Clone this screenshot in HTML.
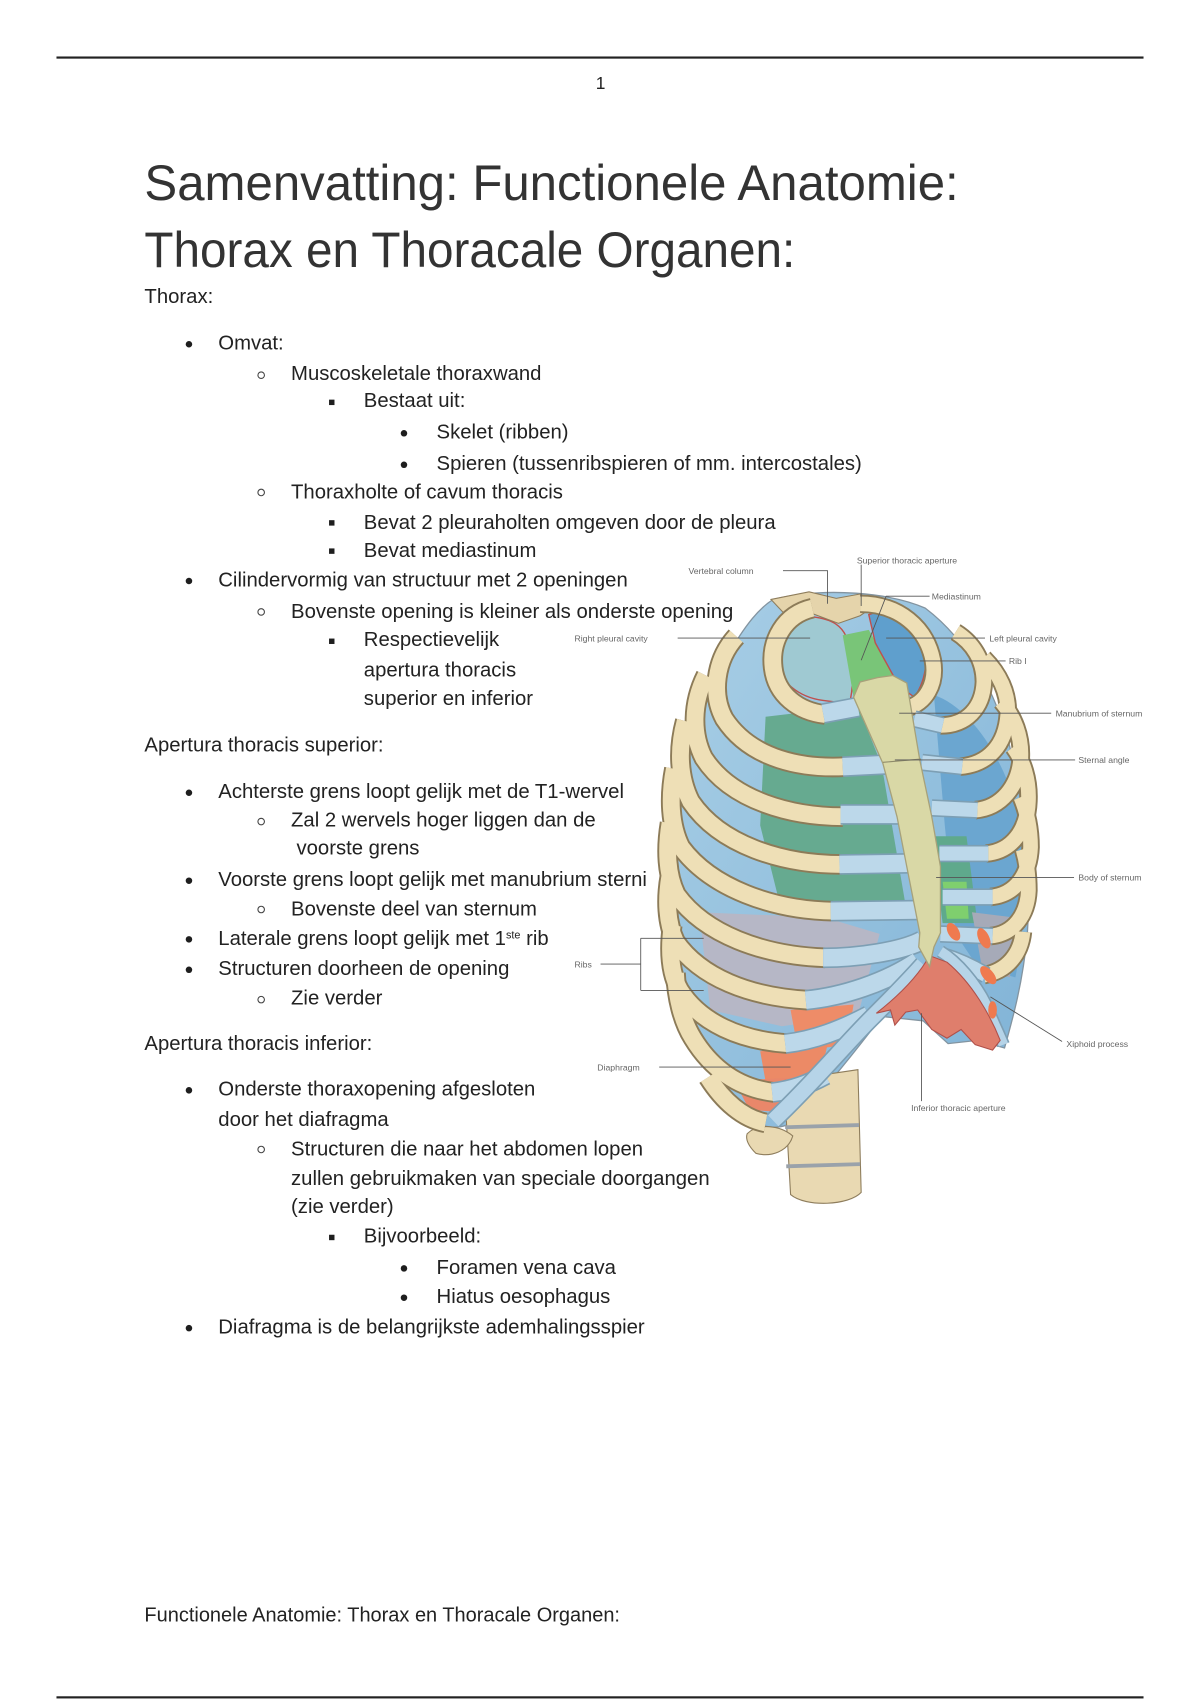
<!DOCTYPE html>
<html><head><meta charset="utf-8"><style>
html,body{margin:0;padding:0;background:#fff;}
body{width:1200px;height:1700px;overflow:hidden;position:relative;}
#pg{position:absolute;left:0;top:0;width:1105px;height:1566px;transform:scale(1.08597);transform-origin:0 0;font-family:"Liberation Sans",Arial,sans-serif;color:#222;}
.t{position:absolute;font-size:18.7px;line-height:19px;white-space:nowrap;}
.d{position:absolute;width:6px;height:6px;border-radius:50%;background:#1e1e1e;}
.o{position:absolute;width:7px;height:7px;border-radius:50%;border:1.2px solid #444;box-sizing:border-box;}
.s{position:absolute;width:5px;height:5px;background:#1e1e1e;}
.rule{position:absolute;left:52px;width:1001px;height:2.4px;background:#222;}
.ttl{position:absolute;left:133px;font-size:46px;line-height:46px;white-space:nowrap;color:#333;transform-origin:0 0;}
sup{font-size:10px;line-height:0;vertical-align:6px;}
svg{position:absolute;left:0;top:0;}
</style></head><body><div id="pg">

<div class="rule" style="top:51.5px"></div>
<div class="t" style="left:543px;width:20px;text-align:center;top:70px;font-size:16px;line-height:16px;">1</div>

<div class="ttl" style="top:144.6px;transform:scaleX(0.984)">Samenvatting: Functionele Anatomie:</div>
<div class="ttl" style="top:206.7px;transform:scaleX(0.954)">Thorax en Thoracale Organen:</div>

<div class="t" style="left:133px;top:262.7px">Thorax:</div>

<div class="d" style="left:171px;top:314.3px"></div><div class="t" style="left:201px;top:306.3px">Omvat:</div>
<div class="o" style="left:236.5px;top:341.5px"></div><div class="t" style="left:268px;top:334px">Muscoskeletale thoraxwand</div>
<div class="s" style="left:302.5px;top:367.7px"></div><div class="t" style="left:335px;top:359.4px">Bestaat uit:</div>
<div class="d" style="left:369px;top:395.5px"></div><div class="t" style="left:402px;top:387.6px">Skelet (ribben)</div>
<div class="d" style="left:369px;top:424.8px"></div><div class="t" style="left:402px;top:416.8px">Spieren (tussenribspieren of mm. intercostales)</div>
<div class="o" style="left:236.5px;top:450.4px"></div><div class="t" style="left:268px;top:442.9px">Thoraxholte of cavum thoracis</div>
<div class="s" style="left:302.5px;top:478.7px"></div><div class="t" style="left:335px;top:470.5px">Bevat 2 pleuraholten omgeven door de pleura</div>
<div class="s" style="left:302.5px;top:504.7px"></div><div class="t" style="left:335px;top:496.6px">Bevat mediastinum</div>
<div class="d" style="left:171px;top:532.2px"></div><div class="t" style="left:201px;top:524.2px">Cilindervormig van structuur met 2 openingen</div>
<div class="o" style="left:236.5px;top:560.2px"></div><div class="t" style="left:268px;top:552.7px">Bovenste opening is kleiner als onderste opening</div>
<div class="s" style="left:302.5px;top:587.7px"></div><div class="t" style="left:335px;top:579.4px">Respectievelijk</div>
<div class="t" style="left:335px;top:607.1px">apertura thoracis</div>
<div class="t" style="left:335px;top:632.6px">superior en inferior</div>

<div class="t" style="left:133px;top:676.1px">Apertura thoracis superior:</div>
<div class="d" style="left:171px;top:727.1px"></div><div class="t" style="left:201px;top:719.1px">Achterste grens loopt gelijk met de T1-wervel</div>
<div class="o" style="left:236.5px;top:752.7px"></div><div class="t" style="left:268px;top:745.2px">Zal 2 wervels hoger liggen dan de</div>
<div class="t" style="left:273px;top:771.3px">voorste grens</div>
<div class="d" style="left:171px;top:808.4px"></div><div class="t" style="left:201px;top:800.4px">Voorste grens loopt gelijk met manubrium sterni</div>
<div class="o" style="left:236.5px;top:834px"></div><div class="t" style="left:268px;top:826.5px">Bovenste deel van sternum</div>
<div class="d" style="left:171px;top:862.2px"></div><div class="t" style="left:201px;top:854.2px">Laterale grens loopt gelijk met 1<sup>ste</sup> rib</div>
<div class="d" style="left:171px;top:889.8px"></div><div class="t" style="left:201px;top:881.8px">Structuren doorheen de opening</div>
<div class="o" style="left:236.5px;top:916.9px"></div><div class="t" style="left:268px;top:909.4px">Zie verder</div>

<div class="t" style="left:133px;top:950.9px">Apertura thoracis inferior:</div>
<div class="d" style="left:171px;top:1001.2px"></div><div class="t" style="left:201px;top:993.2px">Onderste thoraxopening afgesloten</div>
<div class="t" style="left:201px;top:1020.8px">door het diafragma</div>
<div class="o" style="left:236.5px;top:1055px"></div><div class="t" style="left:268px;top:1047.5px">Structuren die naar het abdomen lopen</div>
<div class="t" style="left:268px;top:1075.2px">zullen gebruikmaken van speciale doorgangen</div>
<div class="t" style="left:268px;top:1101.2px">(zie verder)</div>
<div class="s" style="left:302.5px;top:1136.7px"></div><div class="t" style="left:335px;top:1128.3px">Bijvoorbeeld:</div>
<div class="d" style="left:369px;top:1165.1px"></div><div class="t" style="left:402px;top:1157.1px">Foramen vena cava</div>
<div class="d" style="left:369px;top:1192.1px"></div><div class="t" style="left:402px;top:1184.1px">Hiatus oesophagus</div>
<div class="d" style="left:171px;top:1219.7px"></div><div class="t" style="left:201px;top:1211.7px">Diafragma is de belangrijkste ademhalingsspier</div>

<div class="t" style="left:133px;top:1477.3px;font-size:18.4px">Functionele Anatomie: Thorax en Thoracale Organen:</div>
<div class="rule" style="top:1561.5px"></div>

<svg width="1105" height="1566" viewBox="0 0 1105 1566">
<defs>
<linearGradient id="lb" x1="0" y1="0" x2="1" y2="1">
<stop offset="0" stop-color="#a9cfe6"/><stop offset="1" stop-color="#7fb2d6"/></linearGradient>
<g id="ribsL">
<path d="M760,658 C735,655 715,640 712,615 C709,590 722,566 748,560"/>
<path d="M778,706 C740,708 692,700 667,662 C655,640 658,608 678,586"/>
<path d="M776,752 C730,752 674,738 648,698 C637,676 637,648 650,622"/>
<path d="M775,796 C720,796 663,778 636,738 C625,716 624,690 631,664"/>
<path d="M767,839 C712,838 655,818 627,780 C617,760 616,734 621,708"/>
<path d="M760,882 C702,880 649,860 623,824 C614,806 613,782 617,758"/>
<path d="M744,921 C690,918 645,900 622,867 C614,850 613,828 617,806"/>
<path d="M725,961 C682,958 645,942 626,912 C617,896 616,874 619,852"/>
<path d="M713,1006 C680,1002 655,984 638,956 C628,940 623,918 622,896"/>
<path d="M705,1034 C684,1030 666,1014 652,992"/>
</g>
<g id="ribsR">
<path d="M792,556 C828,556 853,578 859,608 C863,630 852,648 835,652"/>
<path d="M866,668 C890,668 905,652 906,628 C906,608 896,592 880,582"/>
<path d="M884,706 C910,704 926,686 928,658 C929,638 920,620 906,606"/>
<path d="M898,746 C922,744 938,724 940,698 C941,678 934,660 922,646"/>
<path d="M908,786 C932,784 946,764 947,738 C948,718 942,700 933,688"/>
<path d="M912,826 C936,824 948,804 949,780 C949,762 945,746 940,734"/>
<path d="M912,862 C934,860 946,842 947,820 C947,806 945,792 942,782"/>
<path d="M906,898 C928,894 940,878 942,858"/>
</g>
<g id="cartL">
<path d="M758,657 L790,651"/>
<path d="M776,706 L815,704"/>
<path d="M774,750 L829,750"/>
<path d="M773,796 L838,795"/>
<path d="M765,839 L846,838"/>
<path d="M758,882 C790,882 830,876 849,866"/>
<path d="M742,921 C775,918 815,905 845,885"/>
<path d="M723,961 C750,958 775,948 800,935"/>
<path d="M711,1006 C730,1004 745,998 760,990"/>
</g>
<g id="cartR">
<path d="M842,662 L868,668"/>
<path d="M849,702 L886,706"/>
<path d="M858,744 L900,746"/>
<path d="M865,786 L910,786"/>
<path d="M868,826 L914,826"/>
<path d="M866,860 L914,862"/>
<path d="M868,880 C885,885 898,892 908,898"/>
</g>
</defs>

<!-- base silhouette -->
<path d="M712,552 C760,540 820,546 852,560 C885,585 912,625 928,680 C943,740 950,805 946,860 C942,905 932,940 925,965 L900,958 L873,961 L850,940 L812,936 C790,965 760,1002 735,1030 C722,1040 705,1042 688,1028 C660,1005 638,962 627,915 C616,862 615,790 621,736 C629,686 648,638 672,600 C687,575 699,560 712,552 Z" fill="url(#lb)" stroke="#8394a0" stroke-width="1.2"/>
<!-- darker blue right -->
<path d="M860,640 C890,650 920,690 935,740 C945,790 945,850 935,900 L900,890 L880,860 L870,760 Z" fill="#6ba6d0"/>
<!-- lungs green -->
<path d="M705,660 L790,650 L812,705 L835,840 L800,845 L720,840 L700,760 Z" fill="#66aa90"/>
<path d="M858,770 L890,770 L900,850 L868,850 Z" fill="#5fa98c"/>
<path d="M868,812 L890,812 L892,846 L872,846 Z" fill="#7fcf6e"/>
<!-- gray lower -->
<path d="M644,840 L760,845 L810,860 L790,935 L720,945 L654,930 Z" fill="#b6b7c6"/>
<path d="M895,840 L935,845 L930,900 L905,895 Z" fill="#a6aab8"/>
<!-- orange lower left -->
<path d="M728,930 L786,925 L780,962 L735,968 Z" fill="#ee8c68"/>
<path d="M700,968 L762,962 L755,992 L705,996 Z" fill="#ec8a66"/>
<path d="M676,995 L738,992 L735,1025 L690,1022 Z" fill="#e9876a"/>

<!-- top opening -->
<path d="M712,580 C720,570 735,566 748,568 C765,570 778,575 782,595 C786,615 786,635 782,648 L758,645 C735,642 718,628 712,605 Z" fill="#9fc9d2" stroke="#c0504d" stroke-width="1.3"/>
<path d="M776,585 L800,580 L826,625 L805,640 L786,642 Z" fill="#79c578"/>
<path d="M800,566 C815,560 835,565 848,580 C856,600 854,625 842,642 L828,632 L806,592 Z" fill="#5f9fcd" stroke="#c0504d" stroke-width="1.3"/>
<path d="M710,552 L745,545 L770,551 L792,547 L808,556 L792,567 L772,574 L748,565 L725,568 Z" fill="#e5d4ab" stroke="#8e7d5c" stroke-width="1"/>

<!-- vertebral column bottom -->
<path d="M722,995 L790,985 L793,1098 C782,1110 742,1112 728,1100 Z" fill="#e9d9b2" stroke="#8e7d5c" stroke-width="1"/>
<path d="M723,1038 L791,1036 M724,1074 L792,1072" stroke="#9aa2aa" stroke-width="3.5" fill="none"/>
<path d="M688,1044 C698,1034 718,1036 730,1046 C726,1060 710,1066 696,1062 C690,1056 686,1050 688,1044 Z" fill="#e9d9b2" stroke="#8e7d5c" stroke-width="1"/>

<!-- ribs -->
<use href="#ribsL" fill="none" stroke="#8c7b58" stroke-width="19"/>
<use href="#ribsL" fill="none" stroke="#eedfb6" stroke-width="15.5"/>
<use href="#ribsR" fill="none" stroke="#8c7b58" stroke-width="17"/>
<use href="#ribsR" fill="none" stroke="#eedfb6" stroke-width="13.5"/>
<use href="#cartL" fill="none" stroke="#7d9fb4" stroke-width="19"/>
<use href="#cartL" fill="none" stroke="#bcd8ea" stroke-width="16"/>
<use href="#cartR" fill="none" stroke="#7d9fb4" stroke-width="16"/>
<use href="#cartR" fill="none" stroke="#bcd8ea" stroke-width="13"/>

<!-- costal margins -->
<path d="M850,888 C835,905 818,922 802,938 C778,962 748,998 712,1032" fill="none" stroke="#7d9fb4" stroke-width="17"/>
<path d="M850,888 C835,905 818,922 802,938 C778,962 748,998 712,1032" fill="none" stroke="#b6d4e8" stroke-width="14"/>
<path d="M866,876 C882,886 898,905 908,925 C914,940 920,952 924,962" fill="none" stroke="#7d9fb4" stroke-width="12"/>
<path d="M866,876 C882,886 898,905 908,925 C914,940 920,952 924,962" fill="none" stroke="#b6d4e8" stroke-width="9"/>

<!-- diaphragm -->
<path d="M856,880 C846,898 830,915 807,933 L820,930 L824,944 L834,932 L845,930 L858,948 L872,956 L885,948 L898,962 L914,967 L921,958 C912,935 895,905 872,886 Z" fill="#df7e6c" stroke="#b0504a" stroke-width="1"/>
<ellipse cx="878" cy="858" rx="5" ry="9" transform="rotate(-30 878 858)" fill="#ef7a4f"/>
<ellipse cx="906" cy="864" rx="5" ry="10" transform="rotate(-25 906 864)" fill="#ef7a4f"/>
<ellipse cx="910" cy="898" rx="5" ry="10" transform="rotate(-40 910 898)" fill="#ef7a4f"/>
<ellipse cx="914" cy="930" rx="4" ry="8" fill="#ef7a4f"/>

<!-- sternum -->
<path d="M786,642 L792,628 L808,624 L822,622 L835,629 L847,700 L858,752 L866,798 L866,859 L860,872 L856,890 L846,872 L847,859 L835,798 L826,752 L813,703 Z" fill="#d9d8a6" stroke="#a7a17a" stroke-width="1.2"/>
<path d="M813,702 L848,699" stroke="#8e8a6a" stroke-width="1" fill="none"/>

<!-- labels -->
<g font-family="Liberation Sans, Arial, sans-serif" font-size="8" fill="#666">
<text x="634" y="528.5">Vertebral column</text>
<text x="789" y="518.7">Superior thoracic aperture</text>
<text x="858" y="552">Mediastinum</text>
<text x="529" y="590.5">Right pleural cavity</text>
<text x="911" y="590.5">Left pleural cavity</text>
<text x="929" y="611.6">Rib I</text>
<text x="972" y="659.7">Manubrium of sternum</text>
<text x="993" y="702.8">Sternal angle</text>
<text x="993" y="811">Body of sternum</text>
<text x="529" y="890.7">Ribs</text>
<text x="982" y="964">Xiphoid process</text>
<text x="550" y="985.6">Diaphragm</text>
<text x="839" y="1023">Inferior thoracic aperture</text>
</g>
<g stroke="#555" stroke-width="0.8" fill="none">
<path d="M721,525.5 L762,525.5 L762,556"/>
<path d="M793,520 L793,558"/>
<path d="M856,549 L816,549 L793,608"/>
<path d="M624,587.5 L746,587.5"/>
<path d="M816,587.5 L907,587.5"/>
<path d="M847,608.6 L926,608.6"/>
<path d="M828,656.7 L968,656.7"/>
<path d="M824,699.8 L990,699.8"/>
<path d="M862,808 L989,808"/>
<path d="M553,887.7 L590,887.7 M590,864 L590,912 M590,864 L648,864 M590,912 L648,912"/>
<path d="M978,959 L912,918"/>
<path d="M607,982.6 L728,982.6"/>
<path d="M848.6,1014 L848.6,933"/>
</g>
</svg>
</div></body></html>
